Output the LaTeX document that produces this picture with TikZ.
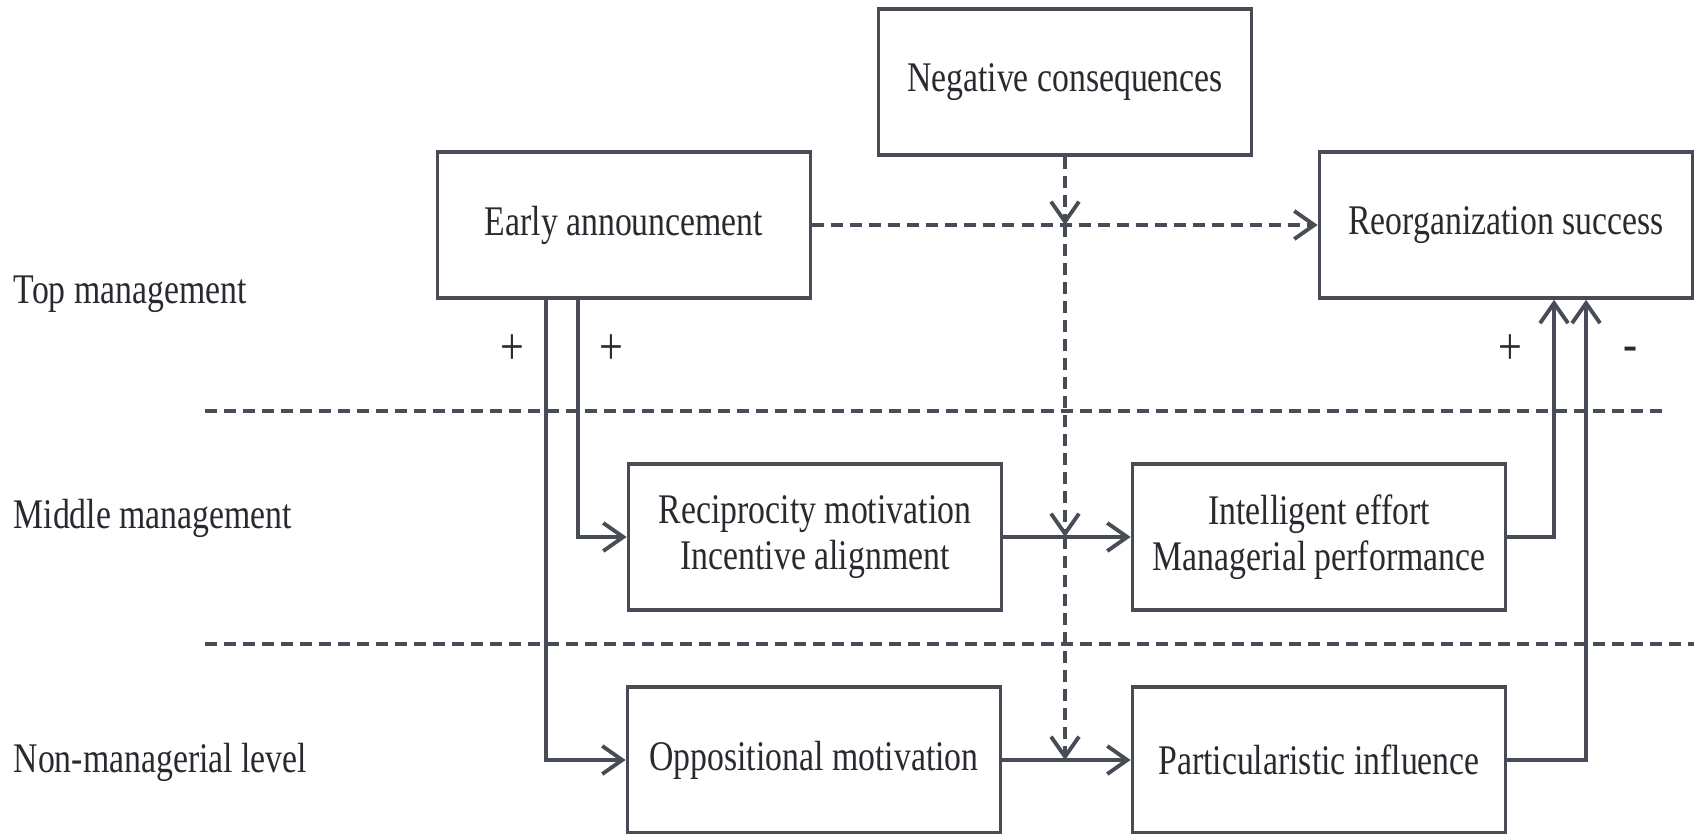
\documentclass[tikz,border=0pt]{standalone}
\usepackage{fontspec}
\setmainfont{Liberation Serif}[FakeStretch=0.8]
\usetikzlibrary{arrows.meta, positioning}
\definecolor{linegray}{RGB}{72,76,86}
\definecolor{textgray}{RGB}{40,42,48}

\begin{document}
\begin{tikzpicture}[
        x=0.01cm, y=-0.01cm,
        % Stili per i blocchi
        box/.style={rectangle, draw=linegray, line width=1pt, fill=white, minimum width=3.73cm, minimum height=1.46cm, align=center, font=\fontsize{12}{13}\selectfont, text=textgray},
        % Stili per le etichette e frecce
        level/.style={anchor=west, inner sep=0pt, font=\fontsize{12}{13}\selectfont, text=textgray},
        sign/.style={font=\fontsize{15}{15}\selectfont, text=textgray},
        arrow/.style={-{Straight Barb[length=2mm, width=2.8mm]}, line width=1.1pt, draw=linegray},
        dasharrow/.style={arrow, dash pattern=on 1.2mm off 0.7mm},
        sep/.style={line width=1.1pt, draw=linegray, dash pattern=on 1.2mm off 0.7mm}
    ]
    \useasboundingbox (0,0) rectangle (1694,833);

    % --- LEVELS ---
    \draw[sep] (205,411) coordinate (S1a) -- (1664,411) coordinate (S1b);
    \draw[sep] (205,644) coordinate (S2a) -- (1694,644) coordinate (S2b);
    \node[level] (top) at (13,294) {Top management};
    \node[level] (mid) at (13,518) {Middle management};
    \node[level] (low) at (13,762) {Non-managerial level};

    % --- BLOCKS ---
    \node[box] (neg) at (1065,82) {Negative consequences};
    \node[box] (early) at (624,225) {Early announcement};
    \node[box] (reorg) at (1506,225) {Reorganization success};
    \node[box] (recip) at (815,537) {Reciprocity motivation\\Incentive alignment};
    \node[box] (intel) at (1319,537) {Intelligent effort\\Managerial performance};
    \node[box] (oppo) at (814,760) {Oppositional motivation};
    \node[box] (partic) at (1319,760) {Particularistic influence};

    % --- ARROWS ---
    \draw[dasharrow] (early.east) -- (reorg.west);
    \draw[arrow] ([xshift=-0.46cm]early.south) |- (recip.west);
    \draw[arrow] ([xshift=-0.78cm]early.south) |- (oppo.west);
    \draw[arrow] (recip.east) -- (intel.west);
    \draw[arrow] (oppo.east) -- (partic.west);
    \draw[arrow] (intel.east) -| ([xshift=0.48cm]reorg.south);
    \draw[arrow] (partic.east) -| ([xshift=0.8cm]reorg.south);

    % --- MODERATION ---
    \coordinate (m1) at (neg.south |- early.east);
    \coordinate (m2) at (neg.south |- recip.east);
    \coordinate (m3) at (neg.south |- oppo.east);
    \draw[dasharrow] (neg.south) -- (m1);
    \draw[dasharrow] (m1) -- (m2);
    \draw[dasharrow] (m2) -- (m3);

    % --- SIGNS ---
    \node[sign] (p1) at (512,350) {+};
    \node[sign] (p2) at (611,350) {+};
    \node[sign] (p3) at (1510,350) {+};
    \node[sign] (n1) at (1631,354) {-};

\end{tikzpicture}
\end{document}
